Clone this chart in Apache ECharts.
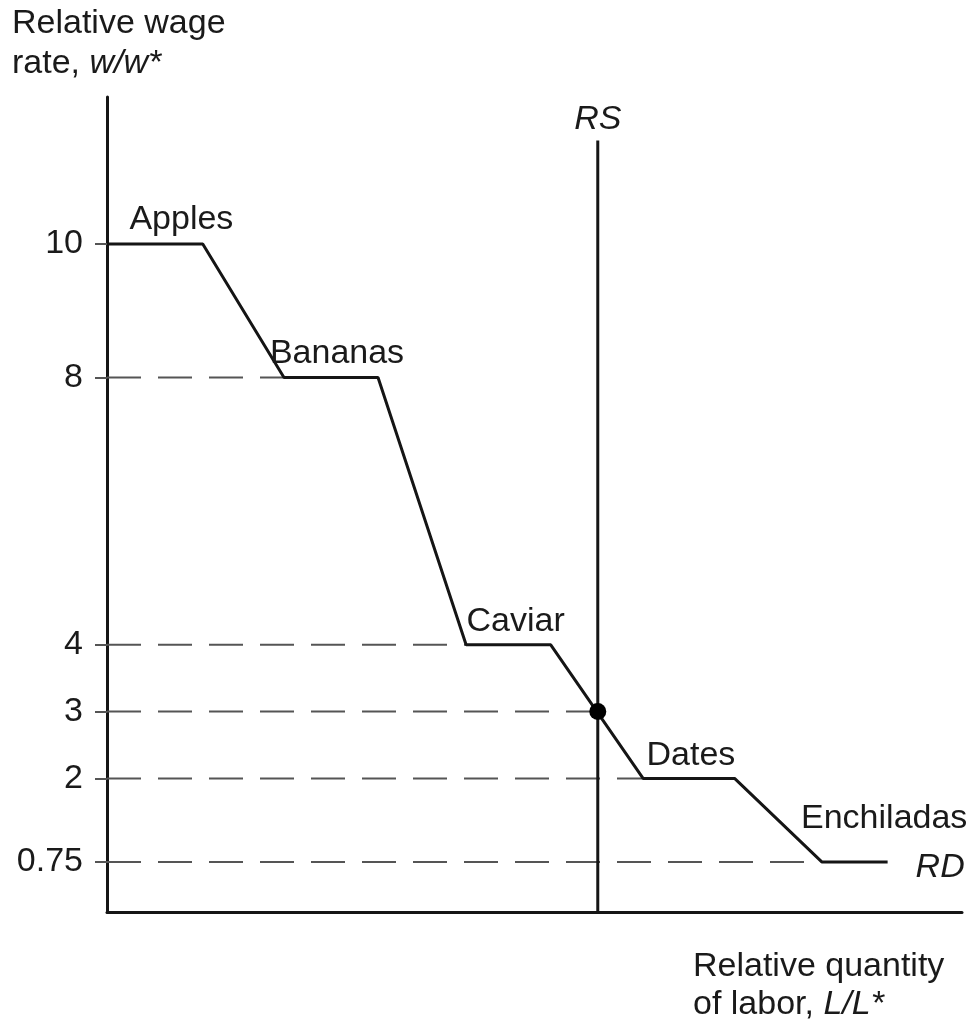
<!DOCTYPE html>
<html>
<head>
<meta charset="utf-8">
<script src="https://cdn.jsdelivr.net/npm/echarts@6/dist/echarts.min.js"></script>
<style>
  html, body { margin: 0; padding: 0; background: #fff; }
  #chart { width: 975px; height: 1026px; }
</style>
</head>
<body>
<div id="chart"></div>
<script>
// relative demand steps: one flat stretch per good
const goods = ["Apples", "Bananas", "Caviar", "Dates", "Enchiladas"];
const wageLevels = [10, 8, 4, 2, 0.75];
const stepStart = [0, 20.7, 42, 62.7, 83.6];
const stepEnd = [11.2, 31.7, 51.9, 73.4, 91.3];

// relative supply (vertical) and equilibrium
const rsQuantity = 57.4;
const rsTop = 11.55;
const equilibriumWage = 3;

// y-axis tick labels
const tickValues = [0.75, 2, 3, 4, 8, 10];

// where each good's name sits
const labelX = [8.7, 26.9, 47.8, 68.3, 90.9];
const labelY = [10.36, 8.36, 4.34, 2.34, 1.4];

const FONT = "'Liberation Sans', Arial, Helvetica, sans-serif";
const INK = "#151515";
const FS = 34;

const rdData = [];
goods.forEach((g, i) => {
  rdData.push([stepStart[i], wageLevels[i]]);
  rdData.push([stepEnd[i], wageLevels[i]]);
});

// dashed guides from the axis to where each level meets RD
const guides = tickValues.filter((v) => v !== 10).map((v) => {
  if (v === equilibriumWage) return [v, rsQuantity];
  return [v, stepStart[wageLevels.indexOf(v)]];
});
const guideData = [];
guides.forEach(([v, x]) => {
  guideData.push([0, v], [x, v], "-");
});

const chart = echarts.init(document.getElementById("chart"), null, { renderer: "canvas" });

chart.setOption({
  animation: false,
  backgroundColor: "#fff",
  textStyle: { fontFamily: FONT },
  grid: { left: 107, right: 13, top: 97, bottom: 114 },
  xAxis: {
    type: "value", min: 0, max: 100,
    axisLine: { lineStyle: { color: INK, width: 3 } },
    axisTick: { show: false }, axisLabel: { show: false }, splitLine: { show: false }
  },
  yAxis: {
    type: "value", min: 0, max: 12.2,
    axisLine: { show: true, lineStyle: { color: INK, width: 3 } },
    axisTick: { show: true, customValues: tickValues, length: 12, lineStyle: { color: "#555", width: 2 } },
    axisLabel: {
      customValues: tickValues, margin: 24, fontSize: FS, color: "#1a1a1a", fontFamily: FONT,
      formatter: (v) => String(v)
    },
    splitLine: { show: false }
  },
  graphic: [
    {
      type: "text", left: 12, top: 7,
      style: {
        text: "{n|Relative wage}\n{n|rate, }{i|w/w*}",
        rich: {
          n: { fontSize: FS, fontFamily: FONT, fill: "#1a1a1a", lineHeight: 40 },
          i: { fontSize: FS, fontFamily: FONT, fontStyle: "italic", fill: "#1a1a1a", lineHeight: 40 }
        }
      }
    },
    {
      type: "text", left: 693, top: 950,
      style: {
        text: "{n|Relative quantity}\n{n|of labor, }{i|L/L*}",
        rich: {
          n: { fontSize: FS, fontFamily: FONT, fill: "#1a1a1a", lineHeight: 38 },
          i: { fontSize: FS, fontFamily: FONT, fontStyle: "italic", fill: "#1a1a1a", lineHeight: 38 }
        }
      }
    }
  ],
  series: [
    {
      name: "guides", type: "line", data: guideData, symbol: "none", connectNulls: false,
      lineStyle: { color: "#555", width: 2, type: [34, 17] }, z: 1
    },
    {
      name: "RS", type: "line", data: [[rsQuantity, 0], [rsQuantity, rsTop]], symbol: "none",
      lineStyle: { color: INK, width: 3 }, z: 3,
      endLabel: {
        show: true, formatter: "RS", fontSize: FS, fontStyle: "italic", color: "#1a1a1a",
        fontFamily: FONT, align: "center", verticalAlign: "bottom", offset: [-8, -4]
      }
    },
    {
      name: "RD", type: "line", data: rdData, symbol: "none",
      lineStyle: { color: INK, width: 3 }, z: 4,
      endLabel: {
        show: true, formatter: "RD", fontSize: FS, fontStyle: "italic", color: "#1a1a1a",
        fontFamily: FONT, align: "left", verticalAlign: "middle", offset: [20, 6]
      }
    },
    {
      name: "equilibrium", type: "scatter", data: [[rsQuantity, equilibriumWage]],
      symbolSize: 17, itemStyle: { color: "#000", opacity: 1 }, z: 5
    },
    {
      name: "goods", type: "scatter", symbolSize: 0, z: 6,
      itemStyle: { opacity: 1 },
      data: goods.map((g, i) => ({ value: [labelX[i], labelY[i]], name: g })),
      label: {
        show: true, position: "inside", formatter: "{b}", fontSize: FS,
        color: "#1a1a1a", fontFamily: FONT
      }
    }
  ]
});
</script>
</body>
</html>
